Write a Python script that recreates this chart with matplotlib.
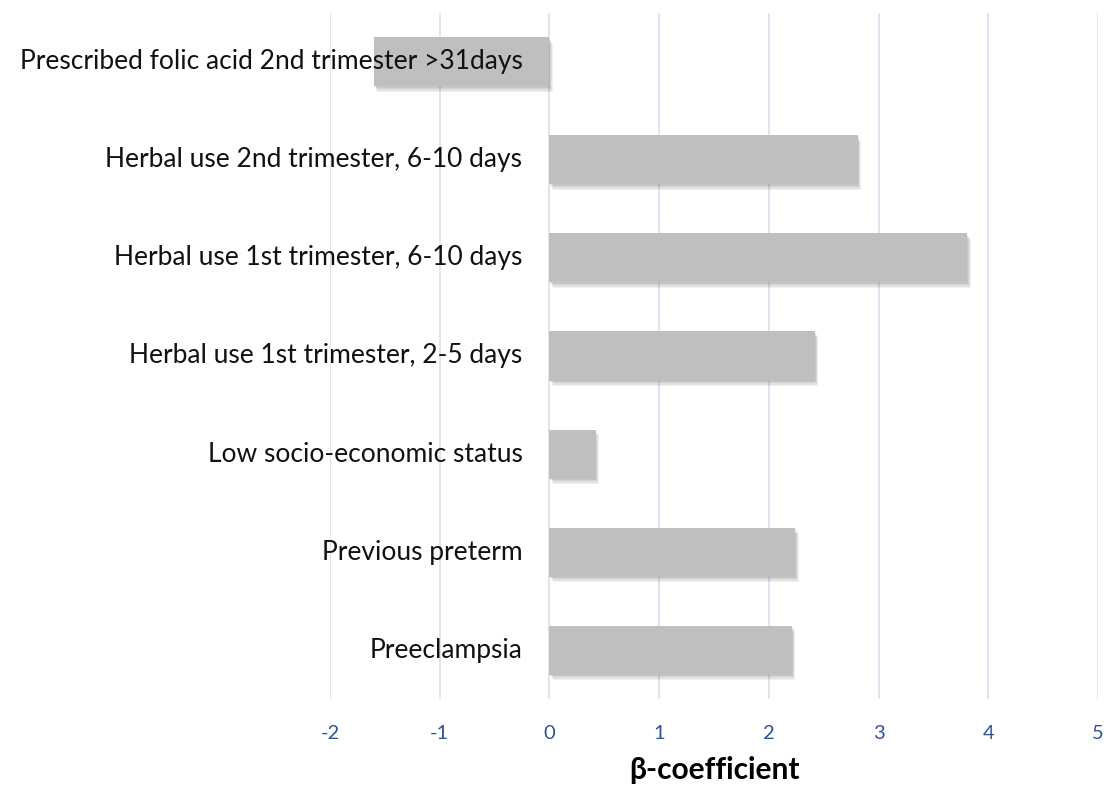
import matplotlib
matplotlib.use("Agg")
import matplotlib.pyplot as plt
import matplotlib.patheffects as pe
import matplotlib.transforms as mtransforms

categories = [
    "Preeclampsia",
    "Previous preterm",
    "Low socio-economic status",
    "Herbal use 1st trimester, 2-5 days",
    "Herbal use 1st trimester, 6-10 days",
    "Herbal use 2nd trimester, 6-10 days",
    "Prescribed folic acid 2nd trimester >31days",
]
values = [2.21, 2.24, 0.42, 2.42, 3.81, 2.81, -1.60]
xticks = [-2, -1, 0, 1, 2, 3, 4, 5]

plt.rcParams['font.family'] = ['Lato', 'DejaVu Sans']

fig = plt.figure(figsize=(11.06, 7.89), dpi=100)
ax = fig.add_axes([0.2984, 0.114, 0.6944, 0.8696])

ypos = list(range(len(categories)))
bars = ax.barh(ypos, values, height=0.5, color="#BFBFBF", zorder=3)
shadow = [pe.SimplePatchShadow(offset=(k * 0.6, -k), shadow_rgbFace="#000000", alpha=0.06)
          for k in (1, 2, 3, 4)]
for b in bars:
    b.set_path_effects(shadow + [pe.Normal()])

ax.set_xlim(-2, 5)
ax.set_ylim(-0.5, len(categories) - 0.5)
ax.set_xticks(xticks)
ax.set_xticklabels([str(t) for t in xticks], color="#2F5491", fontsize=14.5)
ax.set_yticks([])
ax.tick_params(axis='both', length=0)
ax.tick_params(axis='x', pad=19)
ax.grid(axis='x', color="#D6E0F0", linewidth=1.2, zorder=0)
ax.set_axisbelow(True)
for s in ax.spines.values():
    s.set_visible(False)

# category labels right-aligned next to the zero line, drawn above the bars
lab_trans = ax.transData + mtransforms.ScaledTranslation(-0.27, 0, fig.dpi_scale_trans)
for y, name in zip(ypos, categories):
    ax.text(0, y, name, transform=lab_trans, ha='right', va='center',
            fontsize=19, color='#111111', zorder=5)

ax.set_xlabel("β-coefficient", fontsize=21.5, fontweight='bold', labelpad=10)

fig.savefig("out.png", dpi=100)
